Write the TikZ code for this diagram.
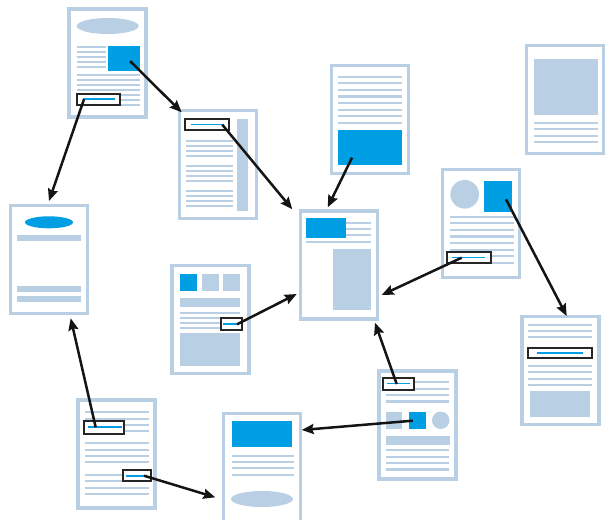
\documentclass[tikz,border=0pt]{standalone}
\usetikzlibrary{arrows.meta}
\definecolor{pgblue}{RGB}{185,208,228}
\definecolor{hiblue}{RGB}{0,159,227}

\begin{document}
\begin{tikzpicture}[
    x=0.03cm, y=-0.03cm,
    page/.style={draw=pgblue, line width=0.1cm, fill=white, inner sep=0pt, minimum width=2.31cm, minimum height=3.24cm},
    txt/.style={draw=pgblue, line width=0.065cm},
    hbox/.style={draw=black!85, line width=0.055cm, fill=white},
    hline/.style={draw=hiblue, line width=0.055cm},
    link/.style={-{Stealth[length=0.36cm, width=0.3cm, inset=0.05cm]}, line width=0.075cm, black!92}
]
\clip (0,0) rectangle (605,519);

% Pages
\node[page] (pA) at (107.5,63) {};
\node[page] (pB) at (218,164.5) {};
\node[page] (pC) at (370,119.5) {};
\node[page] (pD) at (339.3,265) {};
\node[page] (pE) at (481.3,223.5) {};
\node[page] (pF) at (565.3,99.8) {};
\node[page] (pG) at (49,259.3) {};
\node[page] (pH) at (210.5,319.3) {};
\node[page] (pI) at (116.5,454) {};
\node[page] (pJ) at (262.3,467.5) {};
\node[page] (pK) at (417.5,425) {};
\node[page] (pL) at (560.5,370.8) {};

% Page A
\fill[pgblue] (107.7,26) ellipse [x radius=31, y radius=8];
\foreach \y in {46.7,51.7,56.7,61.7,66.7} \draw[txt] (76.7,\y) -- (105.7,\y);
\fill[hiblue] (108,46) rectangle (140,70.7);
\foreach \y in {74.7,79.7,84.7,89.7,94.7,99.7,104.7} \draw[txt] (76.7,\y) -- (140,\y);
\draw[hbox] (76.7,93.7) rectangle (120.3,105);
\draw[hline] (82.7,99.3) -- (115,99.3);

% Page B
\foreach \y in {141,146,151,156,165.7,170.7,175.7,181,191,196,201,206} \draw[txt] (186,\y) -- (232.7,\y);
\fill[pgblue] (236.7,119) rectangle (248.3,210.7);
\draw[hbox] (185.3,119) rectangle (229.3,130.3);
\draw[hline] (191,124.5) -- (224,124.5);

% Page C
\foreach \y in {76.7,83.3,89.9,96.5,103.1,109.7,116.3,122.9} \draw[txt] (338.3,\y) -- (401.7,\y);
\fill[hiblue] (338.3,130) rectangle (401.7,164.7);

% Page D
\foreach \y in {223.3,229.3,235.3} \draw[txt] (346,\y) -- (370.7,\y);
\fill[hiblue] (306,218) rectangle (346,238);
\draw[txt] (306,242.3) -- (370.7,242.3);
\fill[pgblue] (333,249) rectangle (371,309.7);

% Page E
\fill[pgblue] (464.7,194.3) circle [radius=14.3];
\fill[hiblue] (484,181) rectangle (512,211.7);
\foreach \y in {216.7,223.3,229.9,236.5,243.1,249.7,256.3,262.9} \draw[txt] (450,\y) -- (514,\y);
\draw[hbox] (446.7,251.7) rectangle (491,263.3);
\draw[hline] (451.7,257.5) -- (485,257.5);

% Page F
\fill[pgblue] (534,59) rectangle (598,115);
\foreach \y in {122.7,129.2,135.7,142.2} \draw[txt] (534,\y) -- (598,\y);

% Page G
\fill[hiblue] (49,222.3) ellipse [x radius=24, y radius=6];
\fill[pgblue] (17,235) rectangle (81,241);
\fill[pgblue] (17,286) rectangle (81,292);
\fill[pgblue] (17,296) rectangle (81,302);

% Page H
\fill[hiblue] (180,274) rectangle (197,290.7);
\fill[pgblue] (202,274) rectangle (219,290.7);
\fill[pgblue] (223,274) rectangle (240,290.7);
\fill[pgblue] (180,298) rectangle (240,307);
\foreach \y in {313.3,318.3,323.3,328.3} \draw[txt] (180,\y) -- (240,\y);
\draw[hbox] (220.7,318.3) rectangle (242.3,330.3);
\draw[hline] (223,324.3) -- (236.7,324.3);
\fill[pgblue] (180,333.3) rectangle (240,365.7);

% Page I
\foreach \y in {412.3,418.6,424.9,431.2,443.4,449.7,456,462.3,475,481.3,487.6,493.9} \draw[txt] (85,\y) -- (148.7,\y);
\draw[hbox] (84,421.3) rectangle (124.3,434);
\draw[hline] (87.7,427.3) -- (121.7,427.3);
\draw[hbox] (122.7,470) rectangle (150.7,481.3);
\draw[hline] (125.7,475.7) -- (143.7,475.7);

% Page J
\fill[hiblue] (232,421) rectangle (292,446.7);
\foreach \y in {455.7,462,468.3,474.7} \draw[txt] (232,\y) -- (294.3,\y);
\fill[pgblue] (262,499) ellipse [x radius=31, y radius=8];

% Page K
\foreach \y in {382.3,389} \draw[txt] (413.7,\y) -- (449,\y);
\foreach \y in {395.3,401.5} \draw[txt] (385.7,\y) -- (449,\y);
\draw[hbox] (382.7,377.7) rectangle (413.7,389.7);
\draw[hline] (386.7,383.5) -- (410,383.5);
\fill[pgblue] (385.7,412) rectangle (402,428.7);
\fill[hiblue] (409,412) rectangle (426,428.7);
\fill[pgblue] (440.7,420.3) circle [radius=8.7];
\fill[pgblue] (386,436) rectangle (450,445);
\foreach \y in {450.3,456.7,463.1,469.5} \draw[txt] (386,\y) -- (449,\y);

% Page L
\foreach \y in {324.7,331,337.3,366,372.4,378.8,385.2} \draw[txt] (528.3,\y) -- (592.3,\y);
\draw[hbox] (528,348.3) rectangle (592.3,357.7);
\draw[hline] (536.7,352.8) -- (583.3,352.8);
\fill[pgblue] (530,391) rectangle (590,416.7);

% Link ends
\coordinate (sA1) at (130,61);
\coordinate (sA2) at (84,99.3);
\coordinate (sB) at (222.3,124.7);
\coordinate (sC) at (352,157.7);
\coordinate (sE1) at (461.7,257.7);
\coordinate (sE2) at (506,199.3);
\coordinate (sH) at (237,324.3);
\coordinate (sI1) at (95.7,427.3);
\coordinate (sI2) at (144,475.7);
\coordinate (sK1) at (396.7,384);
\coordinate (sK2) at (412.7,420.7);

\coordinate (tB) at (181.7,112.3);
\coordinate (tG1) at (49,201);
\coordinate (tG2) at (70.7,318.3);
\coordinate (tD1) at (292.3,209.3);
\coordinate (tD2) at (327.7,207.3);
\coordinate (tD3) at (381.7,295);
\coordinate (tD4) at (296.7,294);
\coordinate (tD5) at (375,322.7);
\coordinate (tL) at (566.7,316);
\coordinate (tJ1) at (215.3,497.3);
\coordinate (tJ2) at (301.7,430);

% Links
\draw[link] (sA1) -- (tB);
\draw[link] (sA2) -- (tG1);
\draw[link] (sB) -- (tD1);
\draw[link] (sC) -- (tD2);
\draw[link] (sE1) -- (tD3);
\draw[link] (sE2) -- (tL);
\draw[link] (sH) -- (tD4);
\draw[link] (sI1) -- (tG2);
\draw[link] (sI2) -- (tJ1);
\draw[link] (sK1) -- (tD5);
\draw[link] (sK2) -- (tJ2);

\end{tikzpicture}
\end{document}
